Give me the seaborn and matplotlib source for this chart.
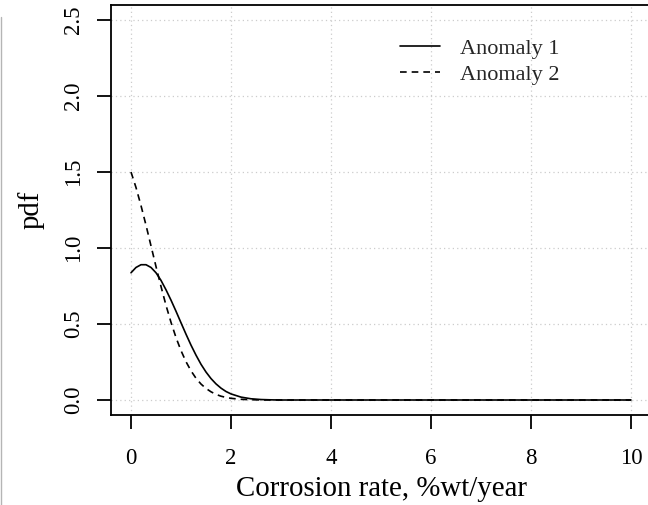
import matplotlib
matplotlib.use("Agg")
import matplotlib.pyplot as plt
from matplotlib.lines import Line2D
import seaborn as sns
import pandas as pd

# Values
x_a1 = [0.0, 0.1, 0.2, 0.3, 0.4, 0.5, 0.6, 0.7, 0.8, 0.9, 1.0, 1.1, 1.2, 1.3,
        1.4, 1.5, 1.6, 1.7, 1.8, 1.9, 2.0, 2.2, 2.4, 2.6, 2.8, 3.0, 4.0, 5.0,
        6.0, 7.0, 8.0, 9.0, 10.0]
y_a1 = [0.837, 0.872, 0.890, 0.890, 0.872, 0.837, 0.787, 0.725, 0.657, 0.584,
        0.508, 0.433, 0.361, 0.295, 0.235, 0.184, 0.141, 0.106, 0.078, 0.056,
        0.040, 0.019, 0.008, 0.003, 0.001, 0.0, 0.0, 0.0, 0.0, 0.0, 0.0, 0.0, 0.0]
x_a2 = [0.0, 0.1, 0.2, 0.3, 0.4, 0.5, 0.6, 0.7, 0.8, 0.9, 1.0, 1.1, 1.2, 1.3,
        1.4, 1.5, 1.6, 1.7, 1.8, 1.9, 2.0, 2.2, 2.4, 2.6, 2.8, 3.0, 4.0, 5.0,
        6.0, 7.0, 8.0, 9.0, 10.0]
y_a2 = [1.500, 1.398, 1.279, 1.150, 1.014, 0.878, 0.747, 0.623, 0.511, 0.411,
        0.325, 0.252, 0.192, 0.143, 0.105, 0.076, 0.054, 0.037, 0.025, 0.017,
        0.011, 0.0045, 0.0017, 0.0006, 0.0002, 0.0, 0.0, 0.0, 0.0, 0.0, 0.0,
        0.0, 0.0]
series_names = ["Anomaly 1", "Anomaly 2"]
x_ticks = [0, 2, 4, 6, 8, 10]
y_ticks = [0.0, 0.5, 1.0, 1.5, 2.0, 2.5]
y_tick_labels = ["0.0", "0.5", "1.0", "1.5", "2.0", "2.5"]
x_label = "Corrosion rate, %wt/year"
y_label = "pdf"

df1 = pd.DataFrame({"x": x_a1, "y": y_a1})
df2 = pd.DataFrame({"x": x_a2, "y": y_a2})

sns.set_theme(style="white")
plt.rcParams["font.family"] = ["Liberation Serif", "DejaVu Serif"]

W, H = 648, 505
fig = plt.figure(figsize=(W / 100, H / 100), dpi=100)
left, right, top, bottom = 111, 651, 4.8, 415.2
ax = fig.add_axes([left / W, 1 - bottom / H, (right - left) / W, (bottom - top) / H])

dash = (0, (4, 3))
sns.lineplot(data=df1, x="x", y="y", ax=ax, color="black", linewidth=1.2,
             estimator=None, sort=False)
sns.lineplot(data=df2, x="x", y="y", ax=ax, color="black", linewidth=1.2,
             linestyle=dash, estimator=None, sort=False)

ax.set_xlim(-0.4, 10.4)
ax.set_ylim(-0.1, 2.6)
ax.set_xticks(x_ticks)
ax.set_yticks(y_ticks)
ax.set_xticklabels([str(t) for t in x_ticks])
ax.set_yticklabels(y_tick_labels, rotation=90, va="center")

ax.grid(True, color="#cccccc", linestyle=(0, (1, 2.5)), linewidth=0.9)
for s in ax.spines.values():
    s.set_visible(True)
    s.set_color("black")
    s.set_linewidth(1.3)

ax.tick_params(axis="both", direction="out", length=10, width=1.3,
               color="black", labelsize=16.5, labelcolor="black",
               bottom=True, left=True)
ax.tick_params(axis="x", pad=13.5)
ax.tick_params(axis="y", pad=9.5)

ax.set_xlabel(x_label, fontsize=20.8, color="black", labelpad=5.5)
ax.set_ylabel(y_label, fontsize=20.8, color="black", labelpad=13)

handles = [Line2D([0], [0], color="black", linewidth=1.2),
           Line2D([0], [0], color="black", linewidth=1.2, linestyle=dash)]
leg = ax.legend(handles, series_names, loc="upper left",
                bbox_to_anchor=(400 / W, 1 - 38 / H), bbox_transform=fig.transFigure,
                frameon=False, fontsize=16, handlelength=1.8, handletextpad=0.9,
                labelspacing=0.26, borderaxespad=0, borderpad=0)

fig.add_artist(Line2D([0.8 / W, 0.8 / W], [0, 1 - 17 / H], transform=fig.transFigure,
                      color="#b5b5b5", linewidth=1.0))

fig.savefig("out.png", dpi=100)
